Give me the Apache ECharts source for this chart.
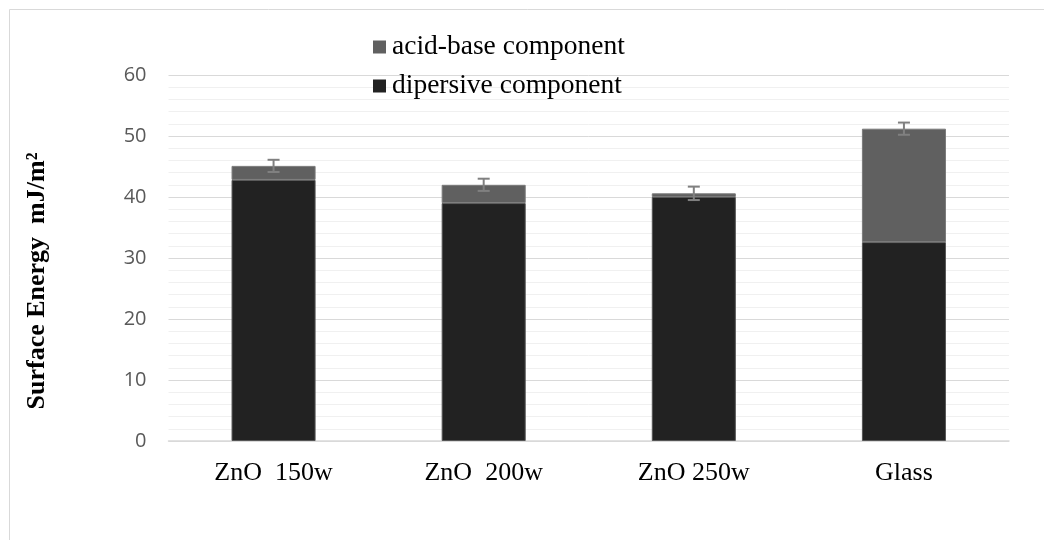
<!DOCTYPE html>
<html>
<head>
<meta charset="utf-8">
<script src="https://cdn.jsdelivr.net/npm/echarts@6/dist/echarts.min.js"></script>
<style>
  html, body { margin: 0; padding: 0; background: #fff; }
  #chart { width: 1044px; height: 540px; }
</style>
</head>
<body>
<div id="chart"></div>
<script>
// Samples along the x axis
const categories = ['ZnO  150w', 'ZnO  200w', 'ZnO 250w', 'Glass'];
// Dispersive part of the surface energy (mJ/m²)
const dispersive = [42.8, 39.0, 40.0, 32.6];
// Acid-base part stacked on top (mJ/m²)
const acidBase = [2.3, 3.0, 0.6, 18.6];
// Error on the total surface energy (± mJ/m²)
const totalError = [1.0, 1.0, 1.1, 1.0];
// Y axis tick values
const yTicks = [0, 10, 20, 30, 40, 50, 60];

const serif = '"Liberation Serif", "Times New Roman", serif';
const sans = '"Open Sans", "Noto Sans", sans-serif';

const errorData = categories.map((c, i) => [i, dispersive[i] + acidBase[i], totalError[i]]);

const chart = echarts.init(document.getElementById('chart'));
chart.setOption({
  animation: false,
  backgroundColor: '#ffffff',
  graphic: [{
    type: 'rect',
    shape: { x: 9.5, y: 9.5, width: 1100, height: 600 },
    style: { fill: 'none', stroke: '#d9d9d9', lineWidth: 1 },
    silent: true
  }, {
    type: 'text',
    x: 37, y: 281,
    rotation: Math.PI / 2,
    style: {
      text: 'Surface Energy  mJ/m²',
      font: 'bold 26px ' + serif,
      fill: '#000',
      align: 'center',
      verticalAlign: 'middle'
    }
  }],
  legend: {
    orient: 'vertical',
    left: 368,
    top: 27,
    itemWidth: 13,
    itemHeight: 13,
    itemGap: 9,
    icon: 'rect',
    itemStyle: { borderWidth: 0 },
    data: ['acid-base component', 'dipersive component'],
    textStyle: { fontFamily: serif, fontSize: 27.5, color: '#000', lineHeight: 30, padding: [0, 0, 0, 1] }
  },
  grid: { left: 168.5, right: 35, top: 75, bottom: 99, containLabel: false },
  xAxis: {
    type: 'category',
    data: categories,
    axisLine: { lineStyle: { color: '#d9d9d9', width: 1.5 } },
    axisTick: { show: false },
    axisLabel: { fontFamily: serif, fontSize: 26, color: '#000', margin: 19 }
  },
  yAxis: {
    type: 'value',
    min: yTicks[0],
    max: yTicks[yTicks.length - 1],
    interval: 10,
    axisLine: { show: false },
    axisTick: { show: false },
    axisLabel: { fontFamily: sans, fontSize: 20, color: '#595959', margin: 22 },
    splitLine: { lineStyle: { color: '#d9d9d9', width: 1 } },
    minorTick: { show: false, splitNumber: 5 },
    minorSplitLine: { show: true, lineStyle: { color: '#f0f0f0', width: 1 } }
  },
  series: [{
    name: 'dipersive component',
    type: 'bar',
    stack: 'energy',
    barWidth: '40%',
    data: dispersive,
    itemStyle: { color: '#222222', borderColor: '#555555', borderWidth: 1 }
  }, {
    name: 'acid-base component',
    type: 'bar',
    stack: 'energy',
    barWidth: '40%',
    data: acidBase,
    itemStyle: { color: '#606060', borderColor: '#7a7a7a', borderWidth: 1 }
  }, {
    name: 'error',
    type: 'custom',
    data: errorData,
    z: 10,
    renderItem: function (params, api) {
      const x = api.value(0);
      const v = api.value(1);
      const e = api.value(2);
      const top = api.coord([x, v + e]);
      const bot = api.coord([x, v - e]);
      const half = 6;
      const style = { stroke: '#808080', lineWidth: 2, fill: 'none' };
      return {
        type: 'group',
        children: [
          { type: 'line', shape: { x1: top[0], y1: top[1], x2: bot[0], y2: bot[1] }, style: style },
          { type: 'line', shape: { x1: top[0] - half, y1: top[1], x2: top[0] + half, y2: top[1] }, style: style },
          { type: 'line', shape: { x1: bot[0] - half, y1: bot[1], x2: bot[0] + half, y2: bot[1] }, style: style }
        ]
      };
    }
  }]
});
</script>
</body>
</html>
